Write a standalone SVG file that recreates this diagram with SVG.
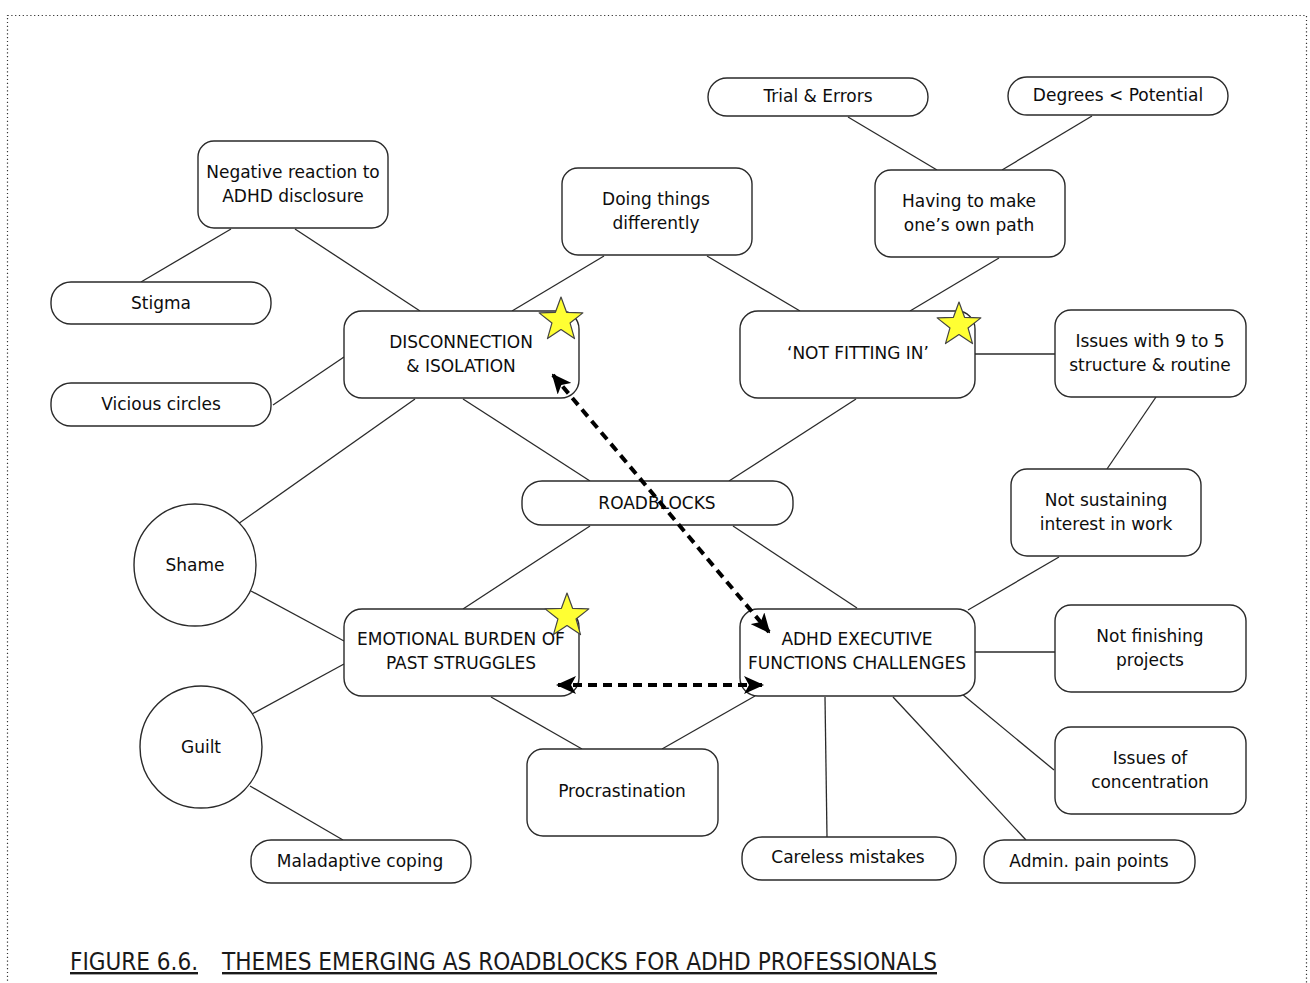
<svg xmlns="http://www.w3.org/2000/svg" width="1310" height="983" viewBox="0 0 1310 983">
  <style>
    .box { fill: #ffffff; stroke: #2a2a2a; stroke-width: 1.4; }
    .link { stroke: #2a2a2a; stroke-width: 1.3; fill: none; }
    .lbl { font-family: "DejaVu Sans", Verdana, sans-serif; font-size: 17px; fill: #0d0d0d; text-anchor: middle; }
    .dash { stroke: #000000; stroke-width: 4; stroke-dasharray: 9 6; fill: none; }
    .star { fill: #ffff33; stroke: #444444; stroke-width: 1.2; stroke-linejoin: round; }
    .cap { font-family: "DejaVu Sans Condensed", "DejaVu Sans", sans-serif; font-size: 24px; fill: #1a1a1a; text-decoration: underline; }
  </style>
  <defs>
    <marker id="head" viewBox="0 0 20 18" markerUnits="userSpaceOnUse" markerWidth="20" markerHeight="18" refX="18" refY="9" orient="auto-start-reverse">
      <path d="M0,0 L20,9 L0,18 L5,9 z" fill="#000000"/>
    </marker>
    <polygon id="star" class="star" points="0,-23 5.58,-7.69 21.87,-7.11 9.03,2.94 13.52,18.61 0,9.5 -13.52,18.61 -9.03,2.94 -21.87,-7.11 -5.58,-7.69"/>
  </defs>

  <rect width="1310" height="983" fill="#ffffff"/>
  <!-- dotted page frame -->
  <rect x="7.5" y="15.5" width="1299" height="1000" fill="none" stroke="#333333" stroke-width="1.2" stroke-dasharray="1.2 2.6"/>

  <!-- connectors -->
  <g id="connectors">
    <line class="link" x1="231" y1="229" x2="141" y2="282"/>
    <line class="link" x1="295" y1="229" x2="420" y2="311"/>
    <line class="link" x1="273" y1="405" x2="344" y2="357"/>
    <line class="link" x1="604" y1="256" x2="512" y2="311"/>
    <line class="link" x1="707" y1="256" x2="800" y2="311"/>
    <line class="link" x1="848" y1="117" x2="937" y2="170"/>
    <line class="link" x1="1092" y1="116" x2="1002" y2="170"/>
    <line class="link" x1="999" y1="258" x2="910" y2="311"/>
    <line class="link" x1="975" y1="354" x2="1055" y2="354"/>
    <line class="link" x1="1156" y1="397" x2="1107" y2="469"/>
    <line class="link" x1="415" y1="399" x2="238" y2="524"/>
    <line class="link" x1="463" y1="399" x2="590" y2="481"/>
    <line class="link" x1="856" y1="399" x2="729" y2="481"/>
    <line class="link" x1="590" y1="526" x2="463" y2="609"/>
    <line class="link" x1="733" y1="526" x2="857" y2="608"/>
    <line class="link" x1="251" y1="591" x2="344" y2="641"/>
    <line class="link" x1="252" y1="714" x2="344" y2="664"/>
    <line class="link" x1="250" y1="786" x2="343" y2="840"/>
    <line class="link" x1="491" y1="697" x2="582" y2="749"/>
    <line class="link" x1="755" y1="696" x2="662" y2="749"/>
    <line class="link" x1="1059" y1="557" x2="968" y2="610"/>
    <line class="link" x1="975" y1="652" x2="1055" y2="652"/>
    <line class="link" x1="962" y1="694" x2="1054" y2="770"/>
    <line class="link" x1="893" y1="697" x2="1026" y2="840"/>
    <line class="link" x1="825" y1="697" x2="827" y2="837"/>
  </g>

  <!-- outer ring nodes -->
  <g id="n-negative"><rect class="box" x="198" y="141" width="190" height="87" rx="16"/>
    <text class="lbl" x="293" y="178">Negative reaction to</text><text class="lbl" x="293" y="202">ADHD disclosure</text></g>
  <g id="n-stigma"><rect class="box" x="51" y="282" width="220" height="42" rx="20"/>
    <text class="lbl" x="161" y="309">Stigma</text></g>
  <g id="n-vicious"><rect class="box" x="51" y="383" width="220" height="43" rx="20"/>
    <text class="lbl" x="161" y="410">Vicious circles</text></g>
  <g id="n-doing"><rect class="box" x="562" y="168" width="190" height="87" rx="16"/>
    <text class="lbl" x="656" y="205">Doing things</text><text class="lbl" x="656" y="229">differently</text></g>
  <g id="n-trial"><rect class="box" x="708" y="78" width="220" height="38" rx="19"/>
    <text class="lbl" x="818" y="102">Trial &amp; Errors</text></g>
  <g id="n-degrees"><rect class="box" x="1008" y="77" width="220" height="38" rx="19"/>
    <text class="lbl" x="1118" y="101">Degrees &lt; Potential</text></g>
  <g id="n-path"><rect class="box" x="875" y="170" width="190" height="87" rx="16"/>
    <text class="lbl" x="969" y="207">Having to make</text><text class="lbl" x="969" y="231">one’s own path</text></g>
  <g id="n-9to5"><rect class="box" x="1055" y="310" width="191" height="87" rx="16"/>
    <text class="lbl" x="1150" y="347">Issues with 9 to 5</text><text class="lbl" x="1150" y="371">structure &amp; routine</text></g>
  <g id="n-sustain"><rect class="box" x="1011" y="469" width="190" height="87" rx="16"/>
    <text class="lbl" x="1106" y="506">Not sustaining</text><text class="lbl" x="1106" y="530">interest in work</text></g>
  <g id="n-shame"><circle class="box" cx="195" cy="565" r="61"/>
    <text class="lbl" x="195" y="571">Shame</text></g>
  <g id="n-guilt"><circle class="box" cx="201" cy="747" r="61"/>
    <text class="lbl" x="201" y="753">Guilt</text></g>
  <g id="n-finishing"><rect class="box" x="1055" y="605" width="191" height="87" rx="16"/>
    <text class="lbl" x="1150" y="642">Not finishing</text><text class="lbl" x="1150" y="666">projects</text></g>
  <g id="n-concentration"><rect class="box" x="1055" y="727" width="191" height="87" rx="16"/>
    <text class="lbl" x="1150" y="764">Issues of</text><text class="lbl" x="1150" y="788">concentration</text></g>
  <g id="n-procrastination"><rect class="box" x="527" y="749" width="191" height="87" rx="16"/>
    <text class="lbl" x="622" y="797">Procrastination</text></g>
  <g id="n-careless"><rect class="box" x="742" y="837" width="214" height="43" rx="20"/>
    <text class="lbl" x="848" y="863">Careless mistakes</text></g>
  <g id="n-admin"><rect class="box" x="984" y="840" width="211" height="43" rx="20"/>
    <text class="lbl" x="1089" y="867">Admin. pain points</text></g>
  <g id="n-maladaptive"><rect class="box" x="251" y="840" width="220" height="43" rx="20"/>
    <text class="lbl" x="360" y="867">Maladaptive coping</text></g>

  <!-- central themes -->
  <g id="n-roadblocks"><rect class="box" x="522" y="481" width="271" height="44" rx="20"/>
    <text class="lbl" x="657" y="509">ROADBLOCKS</text></g>
  <g id="n-disconnection"><rect class="box" x="344" y="311" width="235" height="87" rx="18"/>
    <text class="lbl" x="461" y="348">DISCONNECTION</text><text class="lbl" x="461" y="372">&amp; ISOLATION</text>
    <use href="#star" x="561" y="320"/></g>
  <g id="n-notfitting"><rect class="box" x="740" y="311" width="235" height="87" rx="18"/>
    <text class="lbl" x="858" y="359">‘NOT FITTING IN’</text>
    <use href="#star" x="959" y="325"/></g>
  <g id="n-emotional"><rect class="box" x="344" y="609" width="235" height="87" rx="18"/>
    <text class="lbl" x="461" y="645">EMOTIONAL BURDEN OF</text><text class="lbl" x="461" y="669">PAST STRUGGLES</text>
    <use href="#star" x="567" y="616"/></g>
  <g id="n-executive"><rect class="box" x="740" y="609" width="235" height="87" rx="18"/>
    <text class="lbl" x="857" y="645">ADHD EXECUTIVE</text><text class="lbl" x="857" y="669">FUNCTIONS CHALLENGES</text></g>

  <!-- two-way dashed links -->
  <g id="dashed-links">
    <line class="dash" x1="553" y1="375" x2="769" y2="632" marker-start="url(#head)" marker-end="url(#head)"/>
    <line class="dash" x1="558" y1="685" x2="762" y2="685" marker-start="url(#head)" marker-end="url(#head)"/>
  </g>

  <!-- caption -->
  <g id="caption">
    <text class="cap" x="70" y="970" textLength="128" lengthAdjust="spacingAndGlyphs">FIGURE 6.6.</text>
    <text class="cap" x="222" y="970" textLength="715" lengthAdjust="spacingAndGlyphs">THEMES EMERGING AS ROADBLOCKS FOR ADHD PROFESSIONALS</text>
  </g>
</svg>
